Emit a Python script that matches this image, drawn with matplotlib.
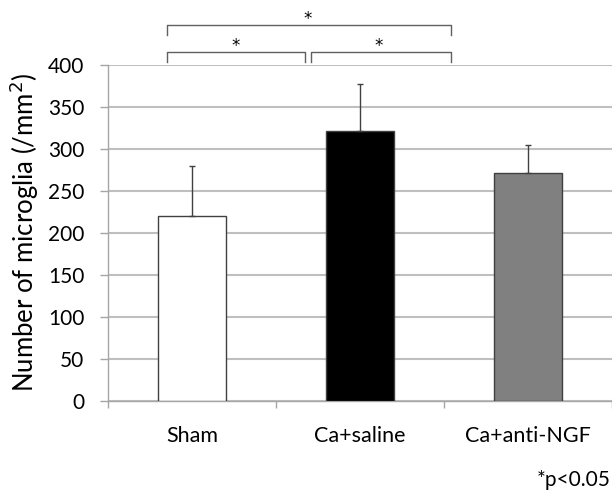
import matplotlib
matplotlib.use('Agg')
import matplotlib.pyplot as plt
from matplotlib.ticker import FixedLocator

plt.rcParams['font.family'] = ['Lato', 'DejaVu Sans']

### Data
groups = ['Sham', 'Ca+saline', 'Ca+anti-NGF']
means = [220, 321, 271]
sd_up = [60, 56, 33]
colors = ['white', 'black', '#808080']
yticks = [0, 50, 100, 150, 200, 250, 300, 350, 400]

# significance brackets: (x_left, x_right, y_top, y_bottom)
brackets = [(-0.15, 1.54, 447, 435), (-0.15, 0.67, 415, 403), (0.71, 1.54, 415, 403)]
stars = [(0.69, 455), (0.26, 423), (1.11, 423)]


def main():
    fig = plt.figure(figsize=(6.12, 4.95), dpi=100)
    ax = fig.add_axes([0.1765, 0.1905, 0.8235, 0.6785])

    x = range(len(groups))
    ax.bar(x, means, width=0.4, color=colors, edgecolor='#404040', linewidth=1.0, zorder=3)
    ax.errorbar(x, means, yerr=[[0]*len(sd_up), sd_up], fmt='none', ecolor='#404040',
                elinewidth=1.0, capsize=2.5, capthick=1.0, zorder=4)

    ax.set_xlim(-0.5, 2.5)
    ax.set_ylim(0, 400)
    ax.yaxis.set_major_locator(FixedLocator(yticks))
    ax.grid(axis='y', color='#bfbfbf', linewidth=1.5, zorder=0)
    ax.set_axisbelow(True)

    for s in ['top', 'right']:
        ax.spines[s].set_visible(False)
    ax.spines['left'].set_color('#a6a6a6')
    ax.spines['bottom'].set_color('#a6a6a6')
    ax.spines['left'].set_linewidth(1.0)
    ax.spines['bottom'].set_linewidth(1.0)

    ax.set_xticks(list(x))
    ax.set_xticklabels(groups, fontsize=15.5)
    ax.set_xticks([-0.5, 0.5, 1.5, 2.5], minor=True)
    ax.tick_params(axis='x', which='major', length=0, pad=18)
    ax.tick_params(axis='x', which='minor', length=5, color='#a6a6a6', width=1.0)
    ax.tick_params(axis='y', length=6, color='#a6a6a6', width=1.0, pad=11, labelsize=15)

    ax.set_ylabel('Number of microglia (/mm$^2$)', fontsize=18.5, labelpad=5)

    for (xl, xr, yt, yb) in brackets:
        ax.plot([xl, xl, xr, xr], [yb, yt, yt, yb], color='#606060', linewidth=1.0, clip_on=False)
    for (xs, ys) in stars:
        ax.text(xs, ys, '*', ha='center', va='center', fontsize=12, family='DejaVu Sans',
                clip_on=False)

    fig.text(0.998, 0.03, '*p<0.05', ha='right', va='center', fontsize=15)

    plt.savefig('out.png', dpi=100)


if __name__ == '__main__':
    main()
